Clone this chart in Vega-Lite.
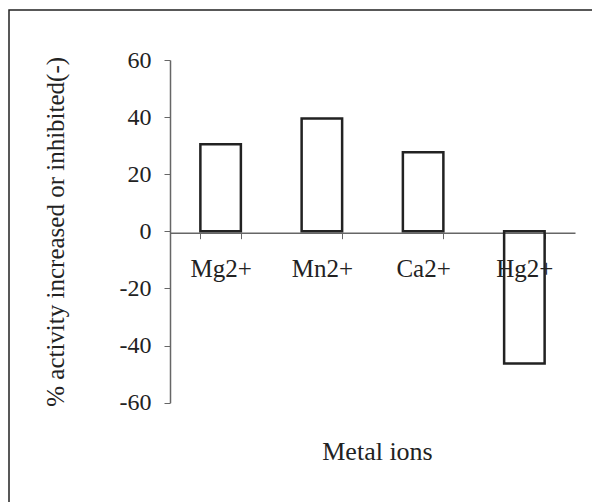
{
  "$schema": "https://vega.github.io/schema/vega-lite/v6.json",
  "autosize": {"type": "none"},
  "padding": {"left": 9, "top": 10, "right": -20, "bottom": -20},
  "width": 603,
  "height": 512,
  "background": "white",
  "config": {
    "view": {"stroke": "#222", "strokeWidth": 1.5},
    "font": "Liberation Serif"
  },
  "data": {
    "values": [
      {"ion": "Mg2+", "activity": 30.5},
      {"ion": "Mn2+", "activity": 39.5},
      {"ion": "Ca2+", "activity": 27.7},
      {"ion": "Hg2+", "activity": -46.3}
    ]
  },
  "mark": {"type": "bar", "filled": false, "stroke": "#222", "strokeWidth": 2.5},
  "encoding": {
    "x": {
      "field": "ion",
      "type": "nominal",
      "sort": null,
      "scale": {"range": [161, 566], "paddingInner": 0.6, "paddingOuter": 0.3},
      "axis": {
        "title": "Metal ions",
        "orient": "bottom",
        "offset": -289.3,
        "labelAngle": 0,
        "tickBand": "extent",
        "tickSize": 6,
        "tickColor": "#666",
        "domainColor": "#666",
        "domainWidth": 1.5,
        "labelFont": "Liberation Serif",
        "labelFontSize": 25,
        "labelColor": "#222",
        "labelPadding": 18,
        "labelDx": 3,
        "titleFont": "Liberation Serif",
        "titleFontSize": 26,
        "titleFontWeight": "normal",
        "titleColor": "#222",
        "titlePadding": 157,
        "titleX": 368
      }
    },
    "y": {
      "field": "activity",
      "type": "quantitative",
      "scale": {"domain": [-60, 60], "range": [392.7, 50], "nice": false},
      "axis": {
        "title": "% activity increased or inhibited(-)",
        "orient": "left",
        "offset": -161,
        "values": [-60, -40, -20, 0, 20, 40, 60],
        "labelExpr": "'' + datum.value",
        "grid": false,
        "tickSize": 6,
        "tickColor": "#666",
        "domainColor": "#666",
        "domainWidth": 1.5,
        "labelFont": "Liberation Serif",
        "labelFontSize": 24,
        "labelColor": "#222",
        "labelPadding": 13,
        "titleFont": "Liberation Serif",
        "titleFontSize": 25,
        "titleFontWeight": "normal",
        "titleColor": "#222",
        "titlePadding": 51
      }
    }
  }
}
